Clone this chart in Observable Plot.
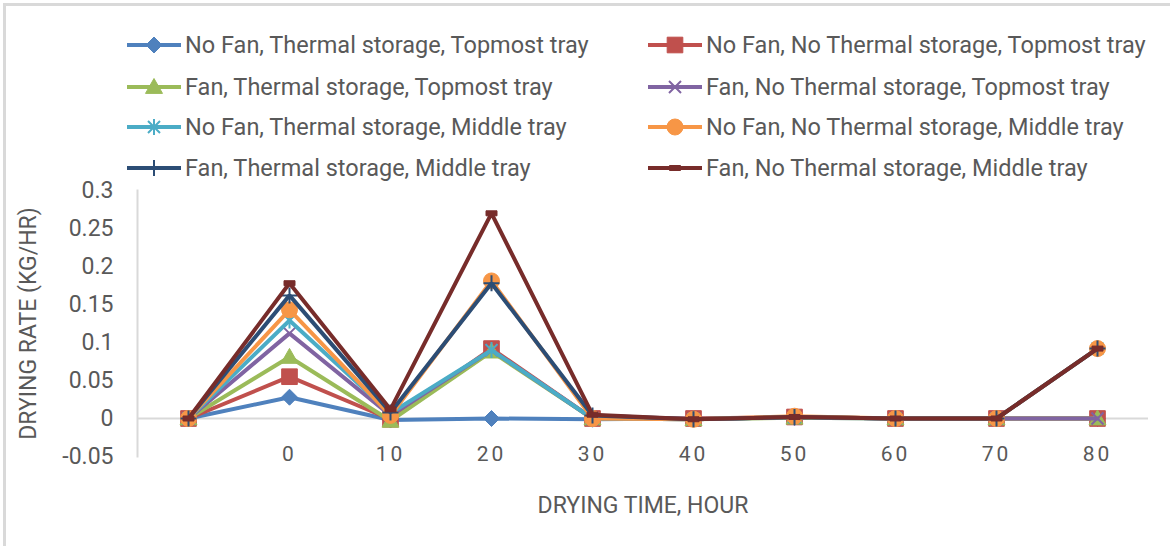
<!DOCTYPE html>
<html>
<head>
<meta charset="utf-8">
<script src="https://cdn.jsdelivr.net/npm/d3@7"></script>
<script src="https://cdn.jsdelivr.net/npm/@observablehq/plot@0.6"></script>
<style>
  html, body { margin: 0; padding: 0; background: #fff; }
  #wrap { position: relative; width: 1170px; height: 546px; overflow: hidden; background: #fff; font-family: Roboto, sans-serif; color: #595959; }
  #border { position: absolute; left: 3px; top: 3px; width: 1250px; height: 650px; border: 3px solid #d9d9d9; box-sizing: border-box; pointer-events: none; }
  #legend { position: relative; height: 180px; }
  .item { position: absolute; height: 40px; display: flex; align-items: center; white-space: nowrap; font-size: 23.5px; }
  .item svg { display: block; margin-right: 4px; }
  #chart svg [aria-label="x-axis tick label"] text { letter-spacing: 3px; }
</style>
</head>
<body>
<div id="wrap">
  <div id="border"></div>
  <div id="legend"></div>
  <div id="chart"></div>
</div>
<script>
// ---------- data ----------
const categories = ["", "0", "10", "20", "30", "40", "50", "60", "70", "80"];
const seriesNames = [
  "No Fan, Thermal storage, Topmost tray",
  "No Fan, No Thermal storage, Topmost tray",
  "Fan, Thermal storage, Topmost tray",
  "Fan, No Thermal storage, Topmost tray",
  "No Fan, Thermal storage, Middle tray",
  "No Fan, No Thermal storage, Middle tray",
  "Fan, Thermal storage, Middle tray",
  "Fan, No Thermal storage, Middle tray"
];
const noFanTsTop     = [0, 0.028, -0.002, 0.000, -0.001, 0.000, 0.001, 0, 0, 0];
const noFanNoTsTop   = [0, 0.055, -0.001, 0.092, 0.000, 0.000, 0.002, 0, 0, 0];
const fanTsTop       = [0, 0.081, -0.003, 0.088, 0.000, -0.001, 0.001, 0, 0, 0];
const fanNoTsTop     = [0, 0.112, 0.004, 0.090, 0.000, -0.001, 0.002, 0, 0, 0];
const noFanTsMid     = [0, 0.129, 0.007, 0.090, 0.000, -0.001, 0.002, 0, 0, 0.092];
const noFanNoTsMid   = [0, 0.143, 0.004, 0.181, 0.000, -0.001, 0.003, 0, 0, 0.092];
const fanTsMid       = [0, 0.162, 0.008, 0.178, 0.004, -0.001, 0.002, 0, 0, 0.092];
const fanNoTsMid     = [0, 0.178, 0.012, 0.270, 0.005, -0.001, 0.002, 0, 0, 0.092];
const seriesValues = [noFanTsTop, noFanNoTsTop, fanTsTop, fanNoTsTop, noFanTsMid, noFanNoTsMid, fanTsMid, fanNoTsMid];
const yTicks = [-0.05, 0, 0.05, 0.1, 0.15, 0.2, 0.25, 0.3];
const xTitle = "DRYING TIME, HOUR";
const yTitle = "DRYING RATE (KG/HR)";

// ---------- styles ----------
const colors = ["#4F81BD", "#C0504D", "#9BBB59", "#8064A2", "#4BACC6", "#F79646", "#2C4D75", "#772C2A"];
const rOf = size => Math.sqrt(size / Math.PI);
const symDiamond = { draw(c, s) { const r = rOf(s); c.moveTo(0, -r); c.lineTo(r, 0); c.lineTo(0, r); c.lineTo(-r, 0); c.closePath(); } };
const symSquare = { draw(c, s) { const r = rOf(s) * 0.92; c.rect(-r, -r, 2 * r, 2 * r); } };
const symTriangle = { draw(c, s) { const r = rOf(s); c.moveTo(0, -r); c.lineTo(r, r * 0.75); c.lineTo(-r, r * 0.75); c.closePath(); } };
const symTimes = { draw(c, s) { const a = rOf(s) * 0.75; c.moveTo(-a, -a); c.lineTo(a, a); c.moveTo(a, -a); c.lineTo(-a, a); } };
const symAsterisk = { draw(c, s) { const r = rOf(s), a = r * 0.75; c.moveTo(-a, -a); c.lineTo(a, a); c.moveTo(a, -a); c.lineTo(-a, a); c.moveTo(0, -r); c.lineTo(0, r); } };
const symCircle = d3.symbolCircle;
const symPlus = { draw(c, s) { const r = rOf(s); c.moveTo(0, -r); c.lineTo(0, r); c.moveTo(-r, 0); c.lineTo(r, 0); } };
const symDash = { draw(c, s) { const r = rOf(s); c.rect(-r, -2.5, 2 * r, 5); } };
const markers = [
  { sym: symDiamond, r: 8, filled: true },
  { sym: symSquare, r: 8.5, filled: true },
  { sym: symTriangle, r: 8.5, filled: true },
  { sym: symTimes, r: 8, filled: false },
  { sym: symAsterisk, r: 8, filled: false },
  { sym: symCircle, r: 8, filled: true },
  { sym: symPlus, r: 8, filled: false },
  { sym: symDash, r: 5.5, filled: true }
];

// ---------- legend ----------
const legend = d3.select("#legend");
const rowCenters = [45, 86.5, 127, 168];
const colLefts = [127, 648];
seriesNames.forEach((name, i) => {
  const row = Math.floor(i / 2), col = i % 2;
  const item = legend.append("div").attr("class", "item")
    .style("left", colLefts[col] + "px").style("top", (rowCenters[row] - 20) + "px");
  const svg = item.append("svg").attr("width", 54).attr("height", 24);
  svg.append("line").attr("x1", 0).attr("x2", 54).attr("y1", 12).attr("y2", 12)
    .attr("stroke", colors[i]).attr("stroke-width", 4).attr("stroke-linecap", "round");
  const m = markers[i];
  svg.append("path").attr("transform", "translate(27,12)")
    .attr("d", d3.symbol(m.sym, Math.PI * m.r * m.r)())
    .attr("fill", m.filled ? colors[i] : "none")
    .attr("stroke", colors[i]).attr("stroke-width", m.filled ? 1 : 2);
  item.append("span").text(name);
});

// ---------- chart ----------
const rows = seriesNames.flatMap((name, i) =>
  categories.map((cat, j) => ({ cat, value: seriesValues[i][j], series: name })));

const seriesMarks = seriesNames.flatMap((name, i) => {
  const data = rows.filter(d => d.series === name);
  const m = markers[i];
  return [
    Plot.line(data, { x: "cat", y: "value", stroke: colors[i], strokeWidth: 4, strokeLinejoin: "miter", strokeLinecap: "round" }),
    Plot.dot(data, { x: "cat", y: "value", symbol: m.sym, r: m.r,
      fill: m.filled ? colors[i] : "none", stroke: colors[i], strokeWidth: m.filled ? 1 : 2 })
  ];
});

const chart = Plot.plot({
  width: 1170,
  height: 366,
  marginLeft: 137,
  marginRight: 22,
  marginTop: 10,
  marginBottom: 90,
  style: { fontFamily: "Roboto, sans-serif", color: "#595959", background: "transparent", overflow: "visible" },
  x: { type: "point", domain: categories, padding: 0.5 },
  y: { domain: [-0.05, 0.3] },
  marks: [
    Plot.frame({ anchor: "left", stroke: "#d9d9d9", strokeWidth: 2 }),
    Plot.ruleY([0], { stroke: "#d9d9d9", strokeWidth: 2 }),
    Plot.axisY(yTicks, { tickSize: 0, tickPadding: 24, fontSize: 23, label: null, tickFormat: d => String(d) }),
    Plot.axisX({ tickSize: 0, tickPadding: -10, fontSize: 21, label: null, tickFormat: d => d }),
    ...seriesMarks,
    Plot.text([xTitle], { text: d => d, frameAnchor: "bottom", dy: 49, lineAnchor: "middle", fontSize: 23, fill: "#595959" }),
    Plot.text([yTitle], { text: d => d, frameAnchor: "left", rotate: -90, dx: -109, textAnchor: "middle", lineAnchor: "middle", fontSize: 23, fill: "#595959" })
  ]
});
document.getElementById("chart").appendChild(chart);
</script>
</body>
</html>
